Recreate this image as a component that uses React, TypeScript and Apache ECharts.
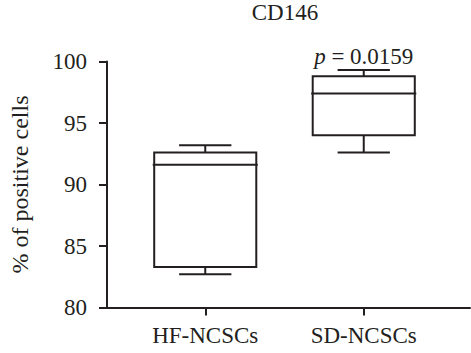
import React, { useEffect, useRef } from "react";
import * as echarts from "echarts";

const categories = ["HF-NCSCs", "SD-NCSCs"];
const mins = [82.7, 92.6];
const q1s = [83.3, 94.0];
const medians = [91.6, 97.4];
const q3s = [92.6, 98.8];
const maxs = [93.2, 99.3];
const pLabels = ["", "0.0159"];
const yTicks = { min: 80, max: 100, interval: 5 };

const INK = "#231f20";
const FONT = "Liberation Serif";

export default function App() {
  const ref = useRef<HTMLDivElement>(null);
  useEffect(() => {
    if (!ref.current) return;
    const chart = echarts.init(ref.current, null, { renderer: "svg" });
    const data = categories.map((_, i) => [i, mins[i], q1s[i], medians[i], q3s[i], maxs[i]]);
    const option: any = {
      animation: false,
      backgroundColor: "#ffffff",
      title: {
        text: "CD146",
        left: 285,
        top: 1,
        padding: 0,
        textAlign: "center",
        textStyle: { fontFamily: FONT, fontSize: 23, fontWeight: "normal", color: INK },
      },
      grid: [
        { left: 100, top: 61.5, right: 1, height: 246 },
        { left: 126, top: 61.5, width: 317, height: 246 },
      ],
      xAxis: [
        {
          type: "value",
          gridIndex: 0,
          min: 0,
          max: 1,
          axisLine: { show: true, lineStyle: { color: INK, width: 2 } },
          axisTick: { show: false },
          axisLabel: { show: false },
          splitLine: { show: false },
        },
        {
          type: "category",
          gridIndex: 1,
          data: categories,
          axisLine: { show: false },
          axisTick: { show: true, alignWithLabel: true, length: 8, lineStyle: { color: INK, width: 2 } },
          axisLabel: { margin: 16, fontFamily: FONT, fontSize: 23, color: INK },
          splitLine: { show: false },
        },
      ],
      yAxis: [
        {
          type: "value",
          gridIndex: 0,
          min: yTicks.min,
          max: yTicks.max,
          interval: yTicks.interval,
          name: "% of positive cells",
          nameLocation: "middle",
          nameGap: 75,
          nameTextStyle: { fontFamily: FONT, fontSize: 24, color: INK },
          axisLine: { show: true, lineStyle: { color: INK, width: 2 } },
          axisTick: { show: true, length: 8, lineStyle: { color: INK, width: 2 } },
          axisLabel: { margin: 20, fontFamily: FONT, fontSize: 23, color: INK },
          splitLine: { show: false },
        },
        {
          type: "value",
          gridIndex: 1,
          min: yTicks.min,
          max: yTicks.max,
          show: false,
          splitLine: { show: false },
        },
      ],
      series: [
        {
          type: "custom",
          xAxisIndex: 1,
          yAxisIndex: 1,
          encode: { x: 0, y: [1, 2, 3, 4, 5] },
          data,
          renderItem: (params: any, api: any) => {
            const idx = api.value(0);
            const band = api.size([1, 0])[0];
            const [cx, yMin] = api.coord([idx, api.value(1)]);
            const yQ1 = api.coord([idx, api.value(2)])[1];
            const yMed = api.coord([idx, api.value(3)])[1];
            const yQ3 = api.coord([idx, api.value(4)])[1];
            const yMax = api.coord([idx, api.value(5)])[1];
            const bh = band * 0.322;
            const ch = band * 0.165;
            const style = { stroke: INK, lineWidth: 2, fill: null };
            const line = (x1: number, y1: number, x2: number, y2: number) => ({
              type: "line",
              shape: { x1, y1, x2, y2 },
              style,
            });
            const children: any[] = [
              line(cx, yQ3, cx, yMax),
              line(cx - ch, yMax, cx + ch, yMax),
              line(cx, yQ1, cx, yMin),
              line(cx - ch, yMin, cx + ch, yMin),
              {
                type: "rect",
                shape: { x: cx - bh, y: yQ3, width: bh * 2, height: yQ1 - yQ3 },
                style: { stroke: INK, lineWidth: 2, fill: "none" },
              },
              line(cx - bh - 1.5, yMed, cx + bh + 1.5, yMed),
            ];
            const p = pLabels[params.dataIndex];
            if (p) {
              children.push({
                type: "text",
                x: cx,
                y: yMax - 14,
                style: {
                  text: "{i|p} = " + p,
                  align: "center",
                  verticalAlign: "middle",
                  fontFamily: FONT,
                  fontSize: 23,
                  fill: INK,
                  rich: { i: { fontStyle: "italic", fontFamily: FONT, fontSize: 23, fill: INK } },
                },
              });
            }
            return { type: "group", children };
          },
        },
      ],
    };
    chart.setOption(option);
    return () => chart.dispose();
  }, []);
  return (
    <div
      ref={ref}
      style={{ position: "fixed", left: 0, top: 0, width: 471, height: 353 }}
    />
  );
}
